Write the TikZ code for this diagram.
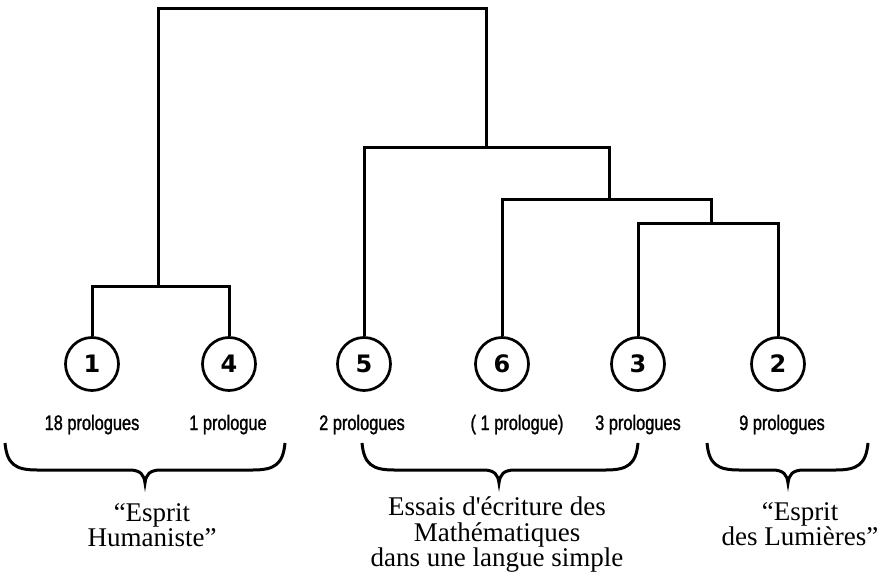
\documentclass[tikz,border=0pt]{standalone}
\usepackage{fontspec}
\setmainfont{Liberation Serif}[Ligatures=TeXOff]
\newfontfamily\countfont[FakeStretch=0.78,FakeBold=1.2]{Liberation Sans}
\newfontfamily\digitfont{DejaVu Sans}
% curly brace under a group: left end, tip, right end
\newcommand{\groupbrace}[3]{%
  \draw[tree] (#1,443) .. controls (#1+2,464) and (#1+10,470) .. (#1+32,470)
    -- (#2-16,470) .. controls (#2-4,470) and (#2-1,475) .. (#2,483)
    .. controls (#2+1,475) and (#2+4,470) .. (#2+16,470)
    -- (#3-32,470) .. controls (#3-10,470) and (#3-2,464) .. (#3,443);}

\begin{document}
\begin{tikzpicture}[x=1pt,y=-1pt,
  tree/.style={line width=3pt},
  cluster/.style={draw,circle,line width=2.7pt,minimum size=53pt,inner sep=0pt,
    font=\digitfont\bfseries\fontsize{24}{24}\selectfont},
  count/.style={anchor=base,inner sep=0pt,font=\countfont\fontsize{21}{21}\selectfont},
  theme/.style={anchor=north,align=center,inner sep=0pt,font=\fontsize{27}{25.5}\selectfont}]
  \useasboundingbox (0,0) rectangle (884,577);
  \foreach \n/\x/\lx/\txt in {1/92/92/18 prologues, 4/229/228/1 prologue,
      5/364/362/2 prologues, 6/502/517/{( 1 prologue)},
      3/638/638/3 prologues, 2/778/782/9 prologues} { %for each class
    \node[cluster] (n\n) at (\x,364) {\n};
    \node[count] (c\n) at (\lx,430) {\txt};
  }
  % junctions of the tree
  \coordinate (j14) at (158,287);
  \coordinate (j32) at (711,224);
  \coordinate (j632) at (609,200);
  \coordinate (j5632) at (486,148);
  \coordinate (jtop) at (322,9);
  \draw[tree] (n1) |- (j14) -| (n4);
  \draw[tree] (n3) |- (j32) -| (n2);
  \draw[tree] (n6) |- (j632) -| (j32);
  \draw[tree] (n5) |- (j5632) -| (j632);
  \draw[tree] (j14) |- (jtop) -| (j5632);
  % groups
  \groupbrace{5}{145}{285}
  \groupbrace{362}{499}{638}
  \groupbrace{707}{788}{868}
  \node[theme] (humaniste) at (152,503) {“Esprit\\Humaniste”};
  \node[theme] (essais) at (497,497) {Essais d'écriture des\\Mathématiques\\dans une langue simple};
  \node[theme] (lumieres) at (800,502) {“Esprit\\des Lumières”};
\end{tikzpicture}
\end{document}
